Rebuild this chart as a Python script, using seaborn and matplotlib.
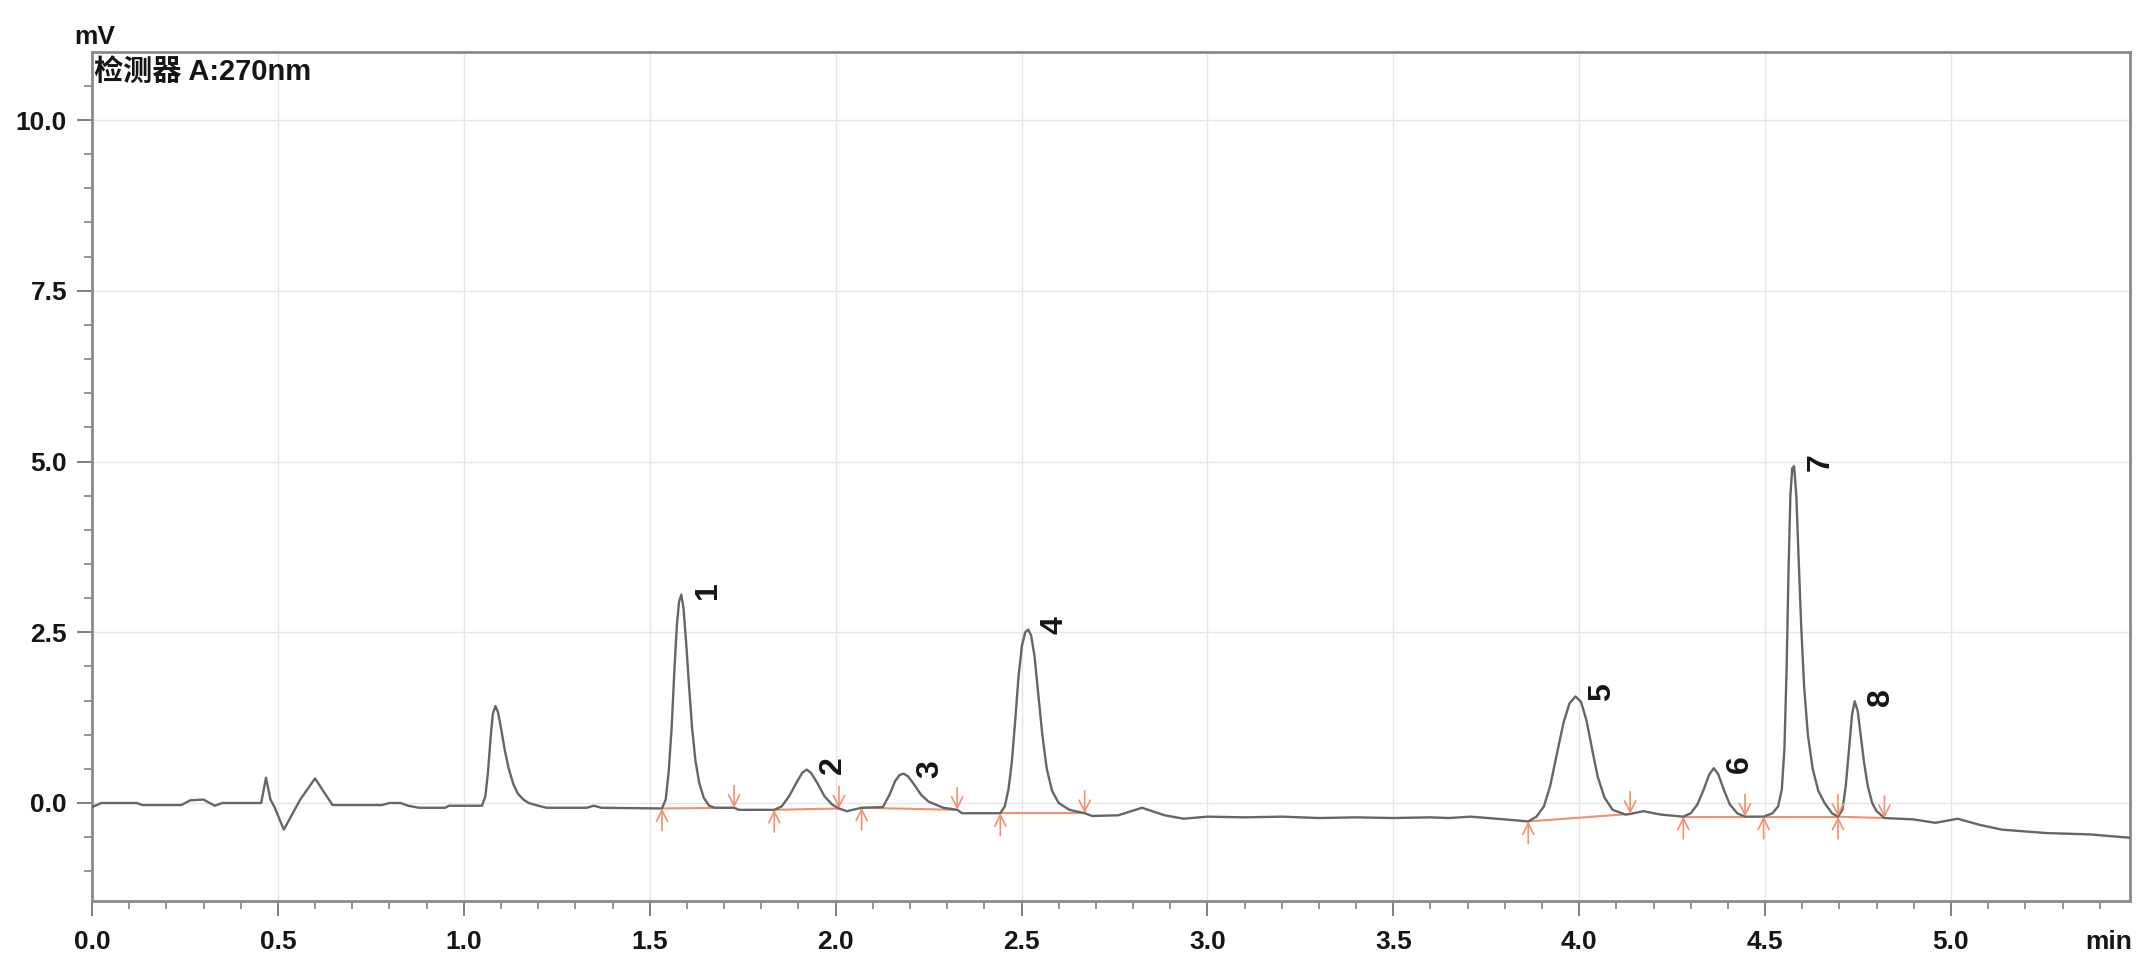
import numpy as np
import pandas as pd
import matplotlib
matplotlib.use("Agg")
import matplotlib.pyplot as plt
import seaborn as sns
from matplotlib.ticker import MultipleLocator, FormatStrFormatter

# ---- chromatogram trace (time in min, signal in mV) ----
time = [0.000, 0.025, 0.120, 0.135, 0.240, 0.265, 0.300, 0.330, 0.350, 0.455,
        0.468, 0.480, 0.490, 0.516, 0.535, 0.560, 0.600, 0.625, 0.647, 0.780,
        0.800, 0.830, 0.850, 0.880, 0.950, 0.960,
        1.049, 1.058, 1.065, 1.072, 1.078, 1.085, 1.092, 1.100, 1.110, 1.121,
        1.133, 1.145, 1.160, 1.175, 1.200, 1.223, 1.330, 1.350, 1.370,
        1.533, 1.543, 1.551, 1.559, 1.566, 1.573, 1.579, 1.585, 1.591, 1.598,
        1.606, 1.614, 1.623, 1.633, 1.645, 1.660, 1.675, 1.727, 1.740,
        1.835, 1.855, 1.875, 1.895, 1.910, 1.922, 1.934, 1.950, 1.970, 1.990,
        2.009, 2.030, 2.070,
        2.127, 2.145, 2.160, 2.172, 2.183, 2.195, 2.210, 2.230, 2.250, 2.290,
        2.327, 2.340,
        2.443, 2.455, 2.465, 2.474, 2.483, 2.492, 2.501, 2.510, 2.518, 2.526,
        2.535, 2.545, 2.556, 2.568, 2.582, 2.600, 2.629, 2.670,
        2.690, 2.760, 2.824, 2.885, 2.936, 3.000, 3.100, 3.200, 3.300, 3.400,
        3.500, 3.600, 3.649, 3.708, 3.800,
        3.863, 3.885, 3.905, 3.922, 3.940, 3.958, 3.974, 3.990, 4.005, 4.020,
        4.035, 4.050, 4.068, 4.090, 4.125, 4.137, 4.173, 4.220,
        4.280, 4.300, 4.318, 4.335, 4.350, 4.362, 4.374, 4.390, 4.405, 4.425,
        4.446,
        4.496, 4.520, 4.535, 4.545, 4.552, 4.558, 4.563, 4.568, 4.573, 4.578,
        4.584, 4.590, 4.597, 4.605, 4.615, 4.628, 4.643, 4.660, 4.680, 4.696,
        4.708, 4.717, 4.726, 4.734, 4.741, 4.749, 4.757, 4.766, 4.776, 4.788,
        4.800, 4.821,
        4.899, 4.958, 5.018, 5.077, 5.137, 5.256, 5.375, 5.483]
signal = [-0.06, 0.00, 0.00, -0.03, -0.03, 0.04, 0.05, -0.04, 0.00, 0.00,
          0.37, 0.05, -0.05, -0.39, -0.20, 0.05, 0.36, 0.15, -0.03, -0.03,
          0.00, 0.00, -0.04, -0.07, -0.07, -0.04,
          -0.04, 0.10, 0.45, 0.95, 1.30, 1.42, 1.33, 1.10, 0.78, 0.50,
          0.28, 0.14, 0.05, 0.00, -0.04, -0.07, -0.07, -0.04, -0.07,
          -0.08, 0.05, 0.45, 1.10, 1.90, 2.60, 2.95, 3.05, 2.85, 2.35,
          1.70, 1.10, 0.62, 0.30, 0.08, -0.04, -0.07, -0.07, -0.10,
          -0.10, -0.05, 0.10, 0.30, 0.44, 0.49, 0.44, 0.30, 0.10, -0.02,
          -0.08, -0.12, -0.07,
          -0.06, 0.12, 0.32, 0.41, 0.43, 0.39, 0.28, 0.12, 0.02, -0.07,
          -0.10, -0.15,
          -0.15, -0.05, 0.20, 0.60, 1.20, 1.85, 2.30, 2.50, 2.54, 2.45,
          2.15, 1.60, 1.00, 0.50, 0.18, 0.00, -0.10, -0.15,
          -0.19, -0.18, -0.07, -0.18, -0.23, -0.20, -0.21, -0.20, -0.22, -0.21,
          -0.22, -0.21, -0.22, -0.20, -0.24,
          -0.27, -0.20, -0.05, 0.25, 0.72, 1.18, 1.46, 1.56, 1.48, 1.20,
          0.78, 0.38, 0.08, -0.10, -0.17, -0.16, -0.12, -0.17,
          -0.20, -0.15, -0.02, 0.20, 0.42, 0.51, 0.42, 0.18, -0.02, -0.15,
          -0.20,
          -0.20, -0.15, -0.05, 0.20, 0.80, 2.00, 3.40, 4.50, 4.90, 4.93,
          4.50, 3.60, 2.60, 1.70, 1.00, 0.50, 0.18, 0.00, -0.15, -0.20,
          -0.10, 0.25, 0.80, 1.30, 1.49, 1.35, 1.00, 0.60, 0.25, 0.00,
          -0.12, -0.22,
          -0.24, -0.29, -0.23, -0.32, -0.39, -0.44, -0.46, -0.51]

# ---- integrated peaks ----
peak_ids = ["1", "2", "3", "4", "5", "6", "7", "8"]
peak_rt = [1.585, 1.922, 2.183, 2.518, 3.990, 4.362, 4.578, 4.741]
peak_height = [3.05, 0.49, 0.43, 2.54, 1.56, 0.51, 4.93, 1.49]
bl_start_t = [1.533, 1.835, 2.070, 2.443, 3.863, 4.280, 4.496, 4.696]
bl_start_v = [-0.08, -0.10, -0.07, -0.15, -0.27, -0.20, -0.20, -0.20]
bl_end_t = [1.727, 2.009, 2.327, 2.670, 4.137, 4.446, 4.696, 4.821]
bl_end_v = [-0.07, -0.08, -0.10, -0.15, -0.16, -0.20, -0.20, -0.22]

# ---- style ----
sns.set_theme(style="ticks")
plt.rcParams["font.family"] = ["Liberation Sans", "Noto Sans CJK SC", "DejaVu Sans"]

W, H = 2141, 966
fig = plt.figure(figsize=(W / 100, H / 100), dpi=100)
fig.patch.set_facecolor("white")
left, right, top, bottom = 92, 2130, 52, 901
ax = fig.add_axes([left / W, 1 - bottom / H, (right - left) / W, (bottom - top) / H])

trace_color = "#666666"
orange = "#f39072"
text_color = "#151515"

df = pd.DataFrame({"time": time, "signal": signal})
sns.lineplot(data=df, x="time", y="signal", ax=ax, color=trace_color,
             linewidth=1.7, sort=False, estimator=None, zorder=3)

# integration baselines and markers
for st, sv, et, ev in zip(bl_start_t, bl_start_v, bl_end_t, bl_end_v):
    ax.plot([st, et], [sv, ev], color=orange, linewidth=1.5, zorder=2)
    ax.annotate("", xy=(st, sv), xytext=(0, -16), textcoords="offset points",
                arrowprops=dict(arrowstyle="->", color=orange, lw=1.2,
                                shrinkA=0, shrinkB=0, mutation_scale=20))
    ax.annotate("", xy=(et, ev), xytext=(0, 16), textcoords="offset points",
                arrowprops=dict(arrowstyle="->", color=orange, lw=1.2,
                                shrinkA=0, shrinkB=0, mutation_scale=20))

# peak labels
for pid, rt, h in zip(peak_ids, peak_rt, peak_height):
    ax.annotate(pid, xy=(rt, h), xytext=(19, 3), textcoords="offset points",
                rotation=90, ha="center", va="center", fontsize=23,
                fontweight="bold", color=text_color)

ax.set_xlim(0, (right - left) / 371.8)
ax.set_ylim(-(bottom - 803) / 68.3, (803 - top) / 68.3)

ax.xaxis.set_major_locator(MultipleLocator(0.5))
ax.xaxis.set_minor_locator(MultipleLocator(0.1))
ax.yaxis.set_major_locator(MultipleLocator(2.5))
ax.yaxis.set_minor_locator(MultipleLocator(0.5))
ax.xaxis.set_major_formatter(FormatStrFormatter("%.1f"))
ax.yaxis.set_major_formatter(FormatStrFormatter("%.1f"))

ax.tick_params(which="major", length=11, width=1.4, color="#808080",
               labelsize=19, pad=7, labelcolor=text_color, direction="out")
ax.tick_params(axis="x", which="major", pad=10)
ax.tick_params(which="minor", length=6, width=1.2, color="#808080", direction="out")
ax.tick_params(top=False, right=False, which="both")
for lab in ax.get_xticklabels() + ax.get_yticklabels():
    lab.set_fontweight("bold")

for sp in ax.spines.values():
    sp.set_visible(True)
    sp.set_color("#8a8a8a")
    sp.set_linewidth(2)

ax.grid(True, which="major", color="#e6e6e6", linewidth=1.0)
ax.set_axisbelow(True)
ax.set_xlabel("")
ax.set_ylabel("")

fig.text(95 / W, 1 - 37 / H, "mV", ha="center", va="center", fontsize=19,
         fontweight="bold", color=text_color)
fig.text(94 / W, 1 - 72 / H, "检测器 A:270nm", ha="left", va="center", fontsize=21,
         fontweight="bold", color=text_color)
fig.text(2109 / W, 1 - 942 / H, "min", ha="center", va="center", fontsize=19,
         fontweight="bold", color=text_color)

fig.savefig("out.png", dpi=100, facecolor="white")
